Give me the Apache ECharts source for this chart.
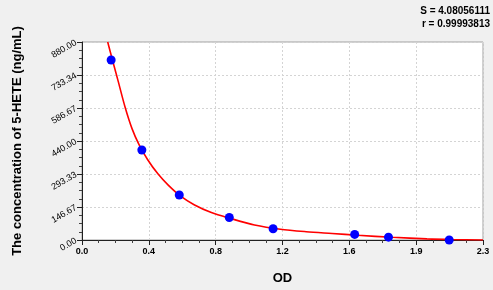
<!DOCTYPE html>
<html>
<head>
<meta charset="utf-8">
<script src="https://cdn.jsdelivr.net/npm/echarts@6/dist/echarts.min.js"></script>
<style>
html,body{margin:0;padding:0;background:#f0f0f0;}
#chart{width:493px;height:290px;}
</style>
</head>
<body>
<div id="chart"></div>
<script>
// Standard points (OD, concentration)
var pointOD = [0.169, 0.347, 0.564, 0.854, 1.108, 1.581, 1.777, 2.129];
var pointConc = [800, 400, 200, 100, 50, 25, 12.5, 0];
// Fitted curve
var curveOD = [0.149, 0.18, 0.21, 0.25, 0.29, 0.33, 0.38, 0.44, 0.50, 0.57, 0.65, 0.75, 0.86, 1.00, 1.15, 1.30, 1.45, 1.60, 1.80, 2.00, 2.15, 2.325];
var curveConc = [880, 790, 705, 590, 495, 425, 358, 294, 244, 196, 157, 122, 96, 67, 48, 37, 29, 21, 12, 5, 2, 0];
// Tick labels
var xTickLabels = ['0.0', '0.4', '0.8', '1.2', '1.6', '1.9', '2.3'];
var yTickLabels = ['0.00', '146.67', '293.33', '440.00', '586.67', '733.34', '880.00'];
var statS = 'S = 4.08056111';
var statR = 'r = 0.99993813';

var xMax = 2.325, xInt = xMax / 6;
var yMax = 880, yInt = yMax / 6;

var chart = echarts.init(document.getElementById('chart'));
chart.setOption({
  backgroundColor: '#f0f0f0',
  animation: false,
  textStyle: {fontFamily: 'Liberation Sans, Arial, sans-serif'},
  graphic: [
    {type: 'text', right: 3, top: 6, style: {text: statS, font: 'bold 10px "Liberation Sans", Arial', fill: '#000', textAlign: 'right'}},
    {type: 'text', right: 3, top: 19, style: {text: statR, font: 'bold 10px "Liberation Sans", Arial', fill: '#000', textAlign: 'right'}}
  ],
  grid: {left: 82, right: 10, top: 42, bottom: 48, show: true, backgroundColor: '#ffffff', borderColor: '#a0a0a0', borderWidth: 1},
  xAxis: {
    type: 'value', min: 0, max: xMax, interval: xInt,
    name: 'OD', nameLocation: 'middle', nameGap: 32,
    nameTextStyle: {fontWeight: 'bold', fontSize: 13, color: '#000'},
    axisLine: {lineStyle: {color: '#202020', width: 1}},
    axisTick: {show: true, length: 5, lineStyle: {color: '#202020'}},
    minorTick: {show: true, splitNumber: 4, length: 3, lineStyle: {color: '#404040'}},
    axisLabel: {fontSize: 9, fontWeight: 'bold', color: '#000', margin: 7,
      formatter: function (v) { return xTickLabels[Math.round(v / xInt)]; }},
    splitLine: {show: true, lineStyle: {color: '#d4d4d4', type: [2, 2]}}
  },
  yAxis: {
    type: 'value', min: 0, max: yMax, interval: yInt,
    name: 'The concentration of 5-HETE (ng/mL)', nameLocation: 'middle', nameGap: 58,
    nameTextStyle: {fontWeight: 'bold', fontSize: 13, color: '#000'},
    axisLine: {show: true, lineStyle: {color: '#202020', width: 1}},
    axisTick: {show: true, length: 5, lineStyle: {color: '#202020'}},
    minorTick: {show: true, splitNumber: 4, length: 3, lineStyle: {color: '#404040'}},
    axisLabel: {fontSize: 9, color: '#000', rotate: 30, margin: 6,
      formatter: function (v) { return yTickLabels[Math.round(v / yInt)]; }},
    splitLine: {show: true, lineStyle: {color: '#d4d4d4', type: [2, 2]}}
  },
  series: [
    {
      type: 'line', smooth: 0.3, showSymbol: false, clip: true,
      data: curveOD.map(function (x, i) { return [x, curveConc[i]]; }),
      lineStyle: {color: '#ff0000', width: 1.6}, z: 2
    },
    {
      type: 'scatter', symbol: 'circle', symbolSize: 9,
      data: pointOD.map(function (x, i) { return [x, pointConc[i]]; }),
      itemStyle: {color: '#0000ff', opacity: 1}, z: 3
    }
  ]
});
</script>
</body>
</html>
